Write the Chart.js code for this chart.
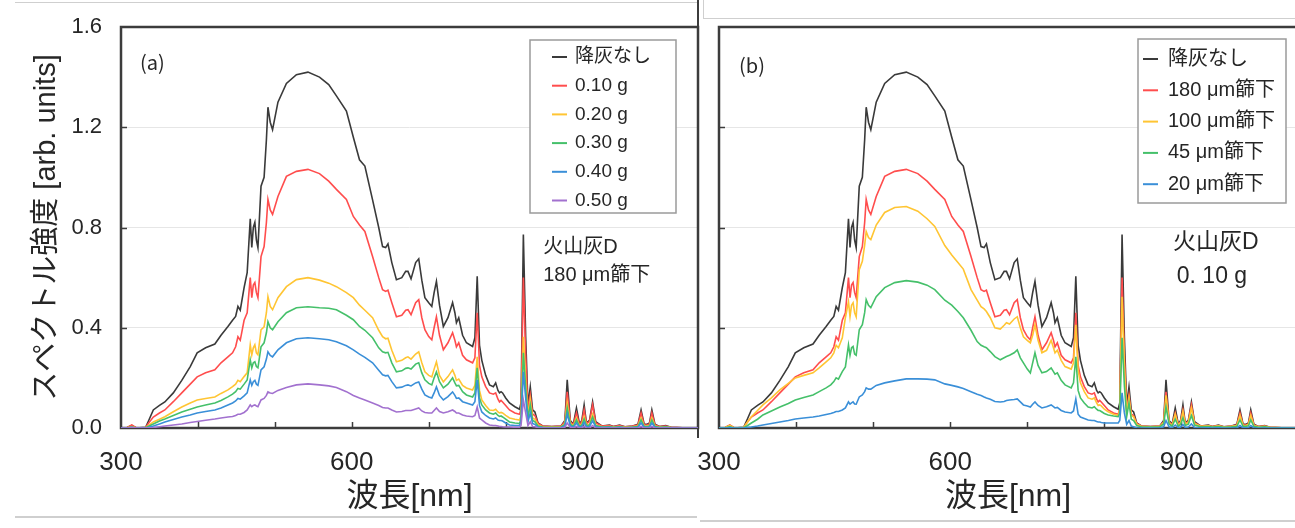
<!DOCTYPE html>
<html><head><meta charset="utf-8">
<script src="https://cdn.jsdelivr.net/npm/chart.js@4.4.1/dist/chart.umd.min.js"></script>
<style>
html,body{margin:0;padding:0;background:#fff;width:1295px;height:528px;overflow:hidden;position:relative;}
canvas{position:absolute;top:0;}
.ln{position:absolute;background:#cfcfcf;}
</style></head><body>
<div class="ln" style="left:15px;top:2px;width:683px;height:1px"></div>
<div class="ln" style="left:697px;top:0px;width:2px;height:438px;background:#3c3c3c"></div>
<div class="ln" style="left:703px;top:18px;width:592px;height:1px"></div>
<div class="ln" style="left:703px;top:0px;width:1px;height:18px"></div>
<div class="ln" style="left:15px;top:516px;width:682px;height:2px"></div>
<div class="ln" style="left:700px;top:520px;width:595px;height:2px"></div>
<canvas id="ca" width="700" height="528" style="left:0"></canvas>
<canvas id="cb" width="610" height="528" style="left:690px"></canvas>
<script>
const wavelength = [300,308,314,320,332,336,342,350,357,368,
379,390,399,410,422,430,439,445,449,452,
455,460,464,468,470,472,474,476,478,482,
486,489,491,494,497,504,515,528,543,558,
570,580,593,602,610,617,627,635,640,644,
647,652,658,665,670,673,677,683,687,691,
695,700,704,707,710,714,719,725,731,734,
736,739,744,749,757,760,763,766,769,774,
779,784,787,790,792,794,796,800,805,812,
818,820,823,826,829,832,835,838,842,848,
860,872,877,880,884,888,892,896,899,902,
905,909,913,917,925,935,940,948,955,965,
972,976,980,984,987,990,994,1000,1008,1015,
1030,1050];

const noAsh = [0,0.002,0.01,0,0.003,0.03,0.072,0.09,0.104,0.14,
0.19,0.245,0.30,0.32,0.335,0.37,0.405,0.43,0.445,0.485,
0.47,0.56,0.62,0.835,0.72,0.80,0.82,0.75,0.72,0.965,
1.0,1.15,1.28,1.22,1.19,1.30,1.375,1.41,1.42,1.40,
1.37,1.325,1.265,1.16,1.07,1.045,0.91,0.80,0.724,0.72,
0.735,0.66,0.592,0.60,0.625,0.625,0.595,0.66,0.675,0.59,
0.52,0.50,0.485,0.54,0.585,0.49,0.405,0.44,0.50,0.46,
0.42,0.44,0.37,0.34,0.325,0.36,0.605,0.33,0.27,0.21,
0.172,0.165,0.18,0.15,0.14,0.145,0.14,0.12,0.10,0.085,
0.075,0.10,0.772,0.364,0.09,0.164,0.072,0.064,0.02,0.008,
0.006,0.008,0.03,0.192,0.03,0.015,0.08,0.015,0.03,0.092,
0.02,0.03,0.104,0.025,0.008,0.012,0.006,0.012,0.005,0.008,
0.015,0.072,0.015,0.015,0.02,0.072,0.015,0.006,0.01,0.003,
0.001,0];

const mass010 = [0,0.002,0.012,0,0.002,0.02,0.044,0.06,0.072,0.105,
0.14,0.175,0.204,0.22,0.232,0.26,0.284,0.30,0.324,0.364,
0.35,0.43,0.46,0.60,0.52,0.57,0.58,0.54,0.52,0.684,
0.724,0.82,0.912,0.87,0.852,0.924,1.004,1.024,1.032,1.015,
0.985,0.952,0.912,0.844,0.81,0.784,0.684,0.60,0.552,0.545,
0.55,0.50,0.444,0.45,0.47,0.472,0.452,0.50,0.512,0.44,
0.392,0.365,0.352,0.40,0.444,0.37,0.312,0.34,0.38,0.35,
0.324,0.34,0.29,0.272,0.26,0.28,0.46,0.25,0.204,0.165,
0.14,0.135,0.14,0.115,0.104,0.11,0.104,0.09,0.072,0.06,
0.055,0.075,0.60,0.29,0.07,0.132,0.055,0.05,0.018,0.008,
0.006,0.008,0.025,0.144,0.025,0.012,0.06,0.012,0.025,0.072,
0.018,0.025,0.092,0.02,0.008,0.01,0.006,0.01,0.005,0.008,
0.012,0.06,0.012,0.012,0.016,0.06,0.012,0.006,0.008,0.003,
0.001,0];

const mass020 = [0,0.001,0.006,0,0.001,0.01,0.024,0.035,0.045,0.065,
0.084,0.10,0.112,0.118,0.124,0.138,0.152,0.165,0.175,0.19,
0.185,0.205,0.22,0.332,0.292,0.32,0.332,0.30,0.292,0.392,
0.404,0.46,0.524,0.485,0.472,0.52,0.564,0.592,0.60,0.59,
0.578,0.564,0.54,0.52,0.49,0.47,0.44,0.39,0.364,0.356,
0.358,0.31,0.264,0.27,0.28,0.284,0.275,0.295,0.304,0.26,
0.224,0.21,0.204,0.235,0.264,0.21,0.184,0.205,0.232,0.21,
0.19,0.195,0.17,0.16,0.152,0.17,0.284,0.15,0.112,0.09,
0.072,0.07,0.075,0.064,0.06,0.062,0.06,0.05,0.04,0.035,
0.032,0.05,0.364,0.19,0.05,0.112,0.04,0.035,0.012,0.005,
0.004,0.005,0.018,0.10,0.018,0.008,0.04,0.008,0.015,0.045,
0.012,0.015,0.055,0.012,0.005,0.006,0.004,0.006,0.003,0.005,
0.008,0.04,0.008,0.008,0.01,0.04,0.008,0.004,0.005,0.002,
0.001,0];

const mass030 = [0,0.001,0.004,0,0.001,0.007,0.016,0.028,0.036,0.05,
0.064,0.075,0.084,0.092,0.10,0.11,0.124,0.135,0.145,0.158,
0.155,0.175,0.192,0.272,0.24,0.26,0.264,0.245,0.24,0.324,
0.34,0.38,0.424,0.40,0.392,0.424,0.46,0.48,0.484,0.48,
0.478,0.472,0.45,0.432,0.405,0.39,0.36,0.32,0.304,0.30,
0.302,0.26,0.224,0.228,0.238,0.24,0.235,0.255,0.26,0.22,
0.192,0.178,0.172,0.20,0.224,0.185,0.16,0.175,0.20,0.18,
0.168,0.17,0.145,0.132,0.124,0.14,0.24,0.12,0.092,0.072,
0.06,0.055,0.06,0.05,0.046,0.048,0.044,0.035,0.024,0.02,
0.018,0.035,0.30,0.16,0.04,0.092,0.03,0.025,0.008,0.004,
0.003,0.004,0.014,0.08,0.014,0.006,0.032,0.006,0.012,0.036,
0.01,0.012,0.044,0.01,0.004,0.005,0.003,0.005,0.002,0.004,
0.006,0.032,0.006,0.006,0.008,0.032,0.006,0.003,0.004,0.002,
0.001,0];

const mass040 = [0,0,0.003,0,0,0.003,0.008,0.016,0.024,0.034,
0.044,0.052,0.06,0.066,0.072,0.08,0.092,0.10,0.108,0.118,
0.115,0.128,0.14,0.192,0.17,0.185,0.19,0.175,0.17,0.232,
0.244,0.275,0.304,0.29,0.284,0.312,0.34,0.356,0.36,0.356,
0.352,0.344,0.328,0.312,0.295,0.282,0.26,0.23,0.212,0.208,
0.21,0.185,0.16,0.163,0.17,0.172,0.168,0.18,0.184,0.155,
0.132,0.124,0.12,0.14,0.164,0.13,0.112,0.125,0.144,0.13,
0.118,0.12,0.105,0.10,0.092,0.105,0.192,0.09,0.064,0.05,
0.04,0.036,0.04,0.032,0.03,0.03,0.028,0.02,0.012,0.01,
0.01,0.025,0.224,0.12,0.025,0.06,0.018,0.014,0.004,0.002,
0.001,0.002,0.008,0.056,0.008,0.003,0.02,0.003,0.006,0.022,
0.005,0.006,0.028,0.005,0.002,0.003,0.001,0.003,0.001,0.002,
0.003,0.02,0.003,0.003,0.004,0.02,0.003,0.001,0.002,0.001,
0,0];

const mass050 = [0,0,0.002,0,0,0.001,0.002,0.005,0.008,0.012,
0.016,0.022,0.026,0.031,0.036,0.04,0.044,0.046,0.05,0.055,
0.055,0.062,0.072,0.092,0.085,0.09,0.092,0.088,0.085,0.112,
0.118,0.13,0.144,0.14,0.138,0.15,0.162,0.172,0.176,0.172,
0.168,0.162,0.145,0.13,0.12,0.112,0.10,0.09,0.082,0.08,
0.08,0.072,0.064,0.066,0.07,0.07,0.07,0.076,0.08,0.068,
0.062,0.06,0.06,0.07,0.08,0.066,0.06,0.065,0.072,0.066,
0.06,0.06,0.052,0.048,0.045,0.05,0.084,0.04,0.032,0.02,
0.012,0.01,0.01,0.008,0.006,0.006,0.005,0.004,0.004,0.003,
0.003,0.01,0.112,0.06,0.01,0.025,0.006,0.005,0.001,0,
0,0,0.003,0.02,0.003,0,0.006,0,0,0.007,
0,0,0.01,0,0,0,0,0,0,0,
0,0.006,0,0,0,0.006,0,0,0,0,
0,0];

// panel (b): 0.10 g of ash D, sieved; the 180 µm curve is the same measurement as 0.10 g in (a)
const sieve180 = mass010;

const sieve100 = [0,0.002,0.01,0,0.002,0.02,0.045,0.07,0.092,0.12,
0.152,0.178,0.20,0.21,0.22,0.24,0.264,0.28,0.30,0.33,
0.32,0.36,0.44,0.504,0.444,0.49,0.50,0.46,0.444,0.632,
0.665,0.73,0.784,0.76,0.752,0.81,0.86,0.88,0.884,0.865,
0.835,0.804,0.728,0.69,0.66,0.634,0.552,0.51,0.484,0.475,
0.465,0.44,0.40,0.395,0.41,0.42,0.415,0.435,0.444,0.40,
0.364,0.35,0.34,0.37,0.412,0.35,0.30,0.31,0.35,0.32,
0.30,0.31,0.27,0.245,0.235,0.26,0.412,0.23,0.18,0.145,
0.12,0.115,0.12,0.10,0.09,0.092,0.088,0.075,0.065,0.055,
0.05,0.07,0.524,0.25,0.06,0.12,0.05,0.045,0.015,0.007,
0.005,0.007,0.022,0.13,0.022,0.01,0.055,0.01,0.022,0.065,
0.015,0.022,0.08,0.018,0.007,0.009,0.005,0.009,0.004,0.007,
0.01,0.05,0.01,0.01,0.014,0.05,0.01,0.005,0.007,0.003,
0.001,0];

const sieve45 = [0,0.001,0.005,0,0.001,0.008,0.02,0.035,0.052,0.068,
0.084,0.098,0.112,0.122,0.132,0.145,0.16,0.172,0.185,0.20,
0.195,0.225,0.244,0.332,0.29,0.32,0.325,0.295,0.29,0.392,
0.412,0.46,0.512,0.49,0.48,0.524,0.56,0.58,0.588,0.582,
0.57,0.552,0.51,0.49,0.465,0.44,0.39,0.345,0.33,0.324,
0.32,0.305,0.285,0.272,0.28,0.285,0.29,0.30,0.312,0.28,
0.26,0.235,0.22,0.26,0.30,0.25,0.22,0.225,0.24,0.225,
0.215,0.22,0.19,0.172,0.16,0.18,0.284,0.15,0.12,0.10,
0.084,0.08,0.085,0.075,0.07,0.07,0.066,0.058,0.052,0.048,
0.045,0.06,0.36,0.17,0.045,0.10,0.035,0.03,0.01,0.005,
0.004,0.005,0.016,0.084,0.016,0.007,0.035,0.007,0.015,0.04,
0.01,0.015,0.05,0.012,0.005,0.006,0.004,0.006,0.003,0.005,
0.007,0.032,0.007,0.007,0.009,0.032,0.007,0.003,0.005,0.002,
0.001,0];

const sieve20 = [0,0,0.002,0,0,0.002,0.004,0.008,0.012,0.018,
0.024,0.03,0.036,0.04,0.044,0.048,0.054,0.058,0.062,0.066,
0.066,0.072,0.08,0.104,0.095,0.10,0.104,0.096,0.095,0.124,
0.132,0.145,0.16,0.155,0.155,0.17,0.18,0.188,0.196,0.196,
0.195,0.192,0.176,0.17,0.164,0.158,0.145,0.135,0.13,0.124,
0.12,0.115,0.106,0.104,0.106,0.11,0.112,0.114,0.116,0.104,
0.092,0.088,0.084,0.095,0.104,0.09,0.08,0.085,0.092,0.085,
0.08,0.082,0.07,0.064,0.06,0.068,0.116,0.055,0.044,0.038,
0.032,0.03,0.03,0.026,0.024,0.024,0.022,0.02,0.02,0.02,
0.02,0.03,0.14,0.06,0.015,0.03,0.008,0.005,0.001,0,
0,0,0.005,0.03,0.005,0.001,0.012,0.001,0.004,0.014,
0.002,0.004,0.016,0.002,0,0.001,0,0.001,0,0,
0.001,0.01,0.001,0.001,0.002,0.01,0.001,0,0,0,
0,0];

const labelsA = ['降灰なし','0.10 g','0.20 g','0.30 g','0.40 g','0.50 g'];
const labelsB = ['降灰なし','180 μm篩下','100 μm篩下','45 μm篩下','20 μm篩下'];
const xTickLabels = ['300','600','900'];
const yTickLabels = ['0.0','0.4','0.8','1.2','1.6'];
const colorsA = ['#3a3a3a','#ff4d4d','#ffc533','#45c06a','#3a8fd8','#a271cf'];
const colorsB = ['#3a3a3a','#ff4d4d','#ffc533','#45c06a','#3a8fd8'];

const LAT = "'Liberation Sans','Noto Sans CJK JP',sans-serif";
const JP = "'Noto Sans CJK JP','Liberation Sans',sans-serif";

function makeDataset(label, values, color, n, i) {
  return {
    label, borderColor: color, backgroundColor: color,
    data: wavelength.map((w, k) => ({x: w, y: values[k]})),
    borderWidth: 1.6, pointRadius: 0, tension: 0, fill: false,
    order: n - i
  };
}

const decor = {
  id: 'decor',
  beforeDatasetsDraw(chart) {
    const {ctx, chartArea: a} = chart;
    const xs = chart.scales.x, ys = chart.scales.y;
    ctx.save();
    ctx.strokeStyle = '#3c3c3c';
    ctx.lineWidth = 1.5;
    ctx.beginPath();
    xs.ticks.forEach(t => {
      if (t.value > xs.min && t.value < xs.max && t.value % 100 === 0) {
        const px = Math.round(xs.getPixelForValue(t.value)) + 0.5;
        ctx.moveTo(px, a.bottom); ctx.lineTo(px, a.bottom - 6);
      }
    });
    ys.ticks.forEach(t => {
      if (t.value > ys.min + 1e-6 && t.value < ys.max - 1e-6) {
        const py = Math.round(ys.getPixelForValue(t.value)) + 0.5;
        ctx.moveTo(a.left, py); ctx.lineTo(a.left + 6, py);
      }
    });
    ctx.stroke();
    ctx.lineWidth = 2.5;
    ctx.strokeRect(a.left, a.top, a.right - a.left, a.bottom - a.top);
    ctx.restore();
  },
  afterDraw(chart, args, opts) {
    const ctx = chart.ctx;
    const L = opts.legend;
    ctx.save();
    ctx.fillStyle = '#fff';
    ctx.fillRect(L.x, L.y, L.w, L.h);
    ctx.strokeStyle = '#9a9a9a';
    ctx.lineWidth = 1.5;
    ctx.strokeRect(L.x, L.y, L.w, L.h);
    ctx.font = L.font;
    ctx.textBaseline = 'middle';
    ctx.textAlign = 'left';
    chart.data.datasets.forEach((d, i) => {
      const y = L.firstRow + i * L.rowStep;
      ctx.strokeStyle = d.borderColor;
      ctx.lineWidth = 2;
      ctx.beginPath();
      ctx.moveTo(L.sampleX, y); ctx.lineTo(L.sampleX + L.sampleW, y);
      ctx.stroke();
      ctx.fillStyle = '#262626';
      ctx.fillText(d.label, L.textX, y);
    });
    const xs = chart.scales.x, ys = chart.scales.y;
    opts.notes.forEach(n => {
      ctx.font = n.font;
      ctx.fillStyle = '#262626';
      ctx.fillText(n.text, xs.getPixelForValue(n.x), ys.getPixelForValue(n.y));
    });
    ctx.restore();
  }
};

function makeChart(id, series, labels, colors, cfg) {
  const n = series.length;
  return new Chart(document.getElementById(id), {
    type: 'line',
    data: { datasets: series.map((s, i) => makeDataset(labels[i], s, colors[i], n, i)) },
    options: {
      responsive: false, animation: false, devicePixelRatio: 1, normalized: true,
      layout: { padding: cfg.padding },
      plugins: {
        legend: { display: false }, tooltip: { enabled: false },
        decor: { legend: cfg.legend, notes: cfg.notes }
      },
      scales: {
        x: {
          type: 'linear', min: 300, max: 1050,
          grid: { display: false, drawTicks: false },
          border: { display: false },
          ticks: {
            stepSize: 100, autoSkip: false, maxRotation: 0, padding: 19,
            color: '#262626', font: { family: LAT, size: 26, lineHeight: 1.2 },
            callback: v => xTickLabels.includes(String(v)) ? String(v) : ''
          },
          title: cfg.xTitle,
          afterFit: s => { s.height = 100; s.paddingLeft = 0; s.paddingRight = 0; }
        },
        y: {
          min: 0, max: 1.6,
          grid: { color: '#e6e6e6', lineWidth: 1, drawTicks: false },
          border: { display: false },
          ticks: {
            stepSize: 0.4, padding: 19, display: cfg.yLabels,
            color: '#262626', font: { family: LAT, size: 22 },
            callback: (v, i) => yTickLabels[i]
          },
          title: cfg.yTitle,
          afterFit: s => { s.width = cfg.yWidth; s.paddingTop = 0; s.paddingBottom = 0; }
        }
      }
    },
    plugins: [decor]
  });
}

const xTitle = { display: true, text: '波長[nm]', color: '#262626',
  font: { family: LAT, size: 32, lineHeight: 1 }, padding: { top: 0, bottom: 15 } };

makeChart('ca', [noAsh, mass010, mass020, mass030, mass040, mass050], labelsA, colorsA, {
  padding: { left: 0, top: 27, right: 2, bottom: 0 },
  yWidth: 121, yLabels: true,
  yTitle: { display: true, text: 'スペクトル強度 [arb. units]', color: '#262626',
    font: { family: LAT, size: 29, lineHeight: 1 }, padding: { top: 32, bottom: 0 } },
  xTitle,
  legend: { x: 530, y: 40, w: 146, h: 173, firstRow: 57, rowStep: 28.7,
    sampleX: 552, sampleW: 15, textX: 575, font: '19px ' + LAT },
  notes: [
    { text: '(a)', x: 324.7, y: 1.46, font: '20px ' + JP },
    { text: '火山灰D', x: 848.7, y: 0.722, font: '20px ' + LAT },
    { text: '180 μm篩下', x: 848.7, y: 0.61, font: '20px ' + LAT }
  ]
});

makeChart('cb', [noAsh, sieve180, sieve100, sieve45, sieve20], labelsB, colorsB, {
  padding: { left: 0, top: 27, right: 3, bottom: 0 },
  yWidth: 29, yLabels: false,
  yTitle: { display: false },
  xTitle,
  legend: { x: 448, y: 39, w: 148, h: 164, firstRow: 59, rowStep: 31.3,
    sampleX: 453, sampleW: 15, textX: 478, font: '20px ' + LAT },
  notes: [
    { text: '(b)', x: 326, y: 1.445, font: '20px ' + JP },
    { text: '火山灰D', x: 889, y: 0.738, font: '23px ' + LAT },
    { text: '0. 10 g', x: 894, y: 0.603, font: '23px ' + LAT }
  ]
});
</script></body></html>
